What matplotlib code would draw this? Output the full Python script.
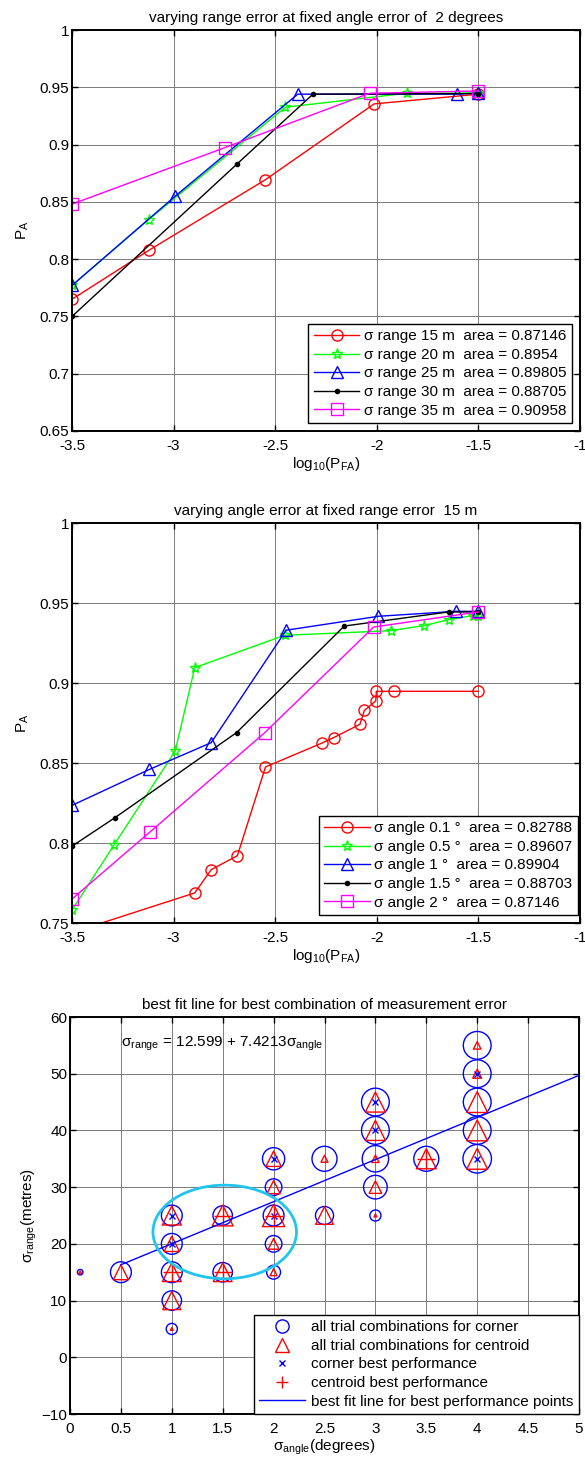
import matplotlib
matplotlib.use('Agg')
import matplotlib.pyplot as plt
from matplotlib.lines import Line2D
from matplotlib.patches import Ellipse
import numpy as np

plt.rcParams['font.family'] = ['Liberation Sans', 'DejaVu Sans']
plt.rcParams['mathtext.fontset'] = 'custom'
plt.rcParams['mathtext.rm'] = 'Liberation Sans'
plt.rcParams['mathtext.it'] = 'Liberation Sans:italic'
plt.rcParams['mathtext.default'] = 'regular'
plt.rcParams['font.size'] = 11

# ---- panel 1: varying range error, angle error 2 deg
r15_x = [-3.5, -3.119, -2.551, -2.013, -1.5]
r15_y = [0.765, 0.808, 0.869, 0.9355, 0.944]
r20_x = [-3.5, -3.122, -2.450, -1.853, -1.5]
r20_y = [0.777, 0.8346, 0.9326, 0.9448, 0.945]
r25_x = [-3.5, -2.992, -2.389, -1.606, -1.5]
r25_y = [0.777, 0.855, 0.944, 0.944, 0.945]
r30_x = [-3.5, -2.690, -2.314, -1.5]
r30_y = [0.750, 0.8827, 0.944, 0.9445]
r35_x = [-3.5, -2.748, -2.035, -1.5]
r35_y = [0.848, 0.8973, 0.9448, 0.9468]
range_labels = ['σ range 15 m  area = 0.87146',
                'σ range 20 m  area = 0.8954',
                'σ range 25 m  area = 0.89805',
                'σ range 30 m  area = 0.88705',
                'σ range 35 m  area = 0.90958']

# ---- panel 2: varying angle error, range error 15 m
a01_x = [-3.5, -2.896, -2.815, -2.686, -2.548, -2.269, -2.213, -2.083, -2.061,
         -2.005, -2.002, -1.916, -1.5]
a01_y = [0.744, 0.7688, 0.7833, 0.7921, 0.8475, 0.8625, 0.8658, 0.8742, 0.8829,
         0.8888, 0.8948, 0.8948, 0.8948]
a05_x = [-3.5, -3.292, -2.992, -2.896, -2.454, -1.931, -1.769, -1.647, -1.528, -1.5]
a05_y = [0.758, 0.799, 0.8575, 0.9096, 0.9298, 0.9327, 0.9358, 0.9396, 0.9421, 0.942]
a1_x = [-3.5, -3.119, -2.815, -2.446, -1.992, -1.611, -1.5]
a1_y = [0.8235, 0.846, 0.8627, 0.933, 0.9417, 0.9448, 0.9448]
a15_x = [-3.5, -3.289, -2.690, -2.160, -1.647, -1.5]
a15_y = [0.798, 0.8158, 0.869, 0.9356, 0.9444, 0.9444]
a2_x = [-3.5, -3.116, -2.551, -2.015, -1.5]
a2_y = [0.765, 0.8069, 0.869, 0.935, 0.9444]
angle_labels = ['σ angle 0.1 °  area = 0.82788',
                'σ angle 0.5 °  area = 0.89607',
                'σ angle 1 °  area = 0.89904',
                'σ angle 1.5 °  area = 0.88703',
                'σ angle 2 °  area = 0.87146']

pfa_ticks = [-3.5, -3, -2.5, -2, -1.5, -1]
pfa_ticklabels = ['-3.5', '-3', '-2.5', '-2', '-1.5', '-1']
pa_ticks = [0.65, 0.7, 0.75, 0.8, 0.85, 0.9, 0.95, 1]
pa_ticklabels = ['0.65', '0.7', '0.75', '0.8', '0.85', '0.9', '0.95', '1']

# ---- panel 3: trial combinations
trial_angle = [0.1, 0.5, 1, 1, 1, 1, 1, 1.5, 1.5, 2, 2, 2, 2, 2, 2.5, 2.5,
               3, 3, 3, 3, 3, 3.5, 4, 4, 4, 4, 4]
trial_range = [15, 15, 25, 20, 15, 10, 5, 25, 15, 35, 30, 25, 20, 15, 35, 25,
               45, 40, 35, 30, 25, 35, 55, 50, 45, 40, 35]
corner_size = [4, 15, 15, 15, 15, 14, 8, 14, 14, 16, 12, 15, 12, 10, 18, 13,
               20, 20, 19, 17, 8, 18, 20, 20, 20, 20, 20.5]
centroid_size = [2, 10.8, 13.7, 11, 13.5, 13, 2, 15, 13.5, 11, 9.5, 16, 7.7, 5, 5, 12.7,
                 14.4, 14.4, 5.3, 9, 2, 14.4, 5.4, 6.5, 15, 15, 15]
corner_best_angle = [1, 1, 2, 2, 3, 3, 4, 4]
corner_best_range = [25, 20, 35, 25, 45, 40, 50, 35]
centroid_best_angle = [1, 1.5, 1.5, 2, 3.5]
centroid_best_range = [15, 25, 15, 25, 35]
fit_intercept = 12.599
fit_slope = 7.4213
fit_span = [0.5, 5.0]

ang_ticks = [0, 0.5, 1, 1.5, 2, 2.5, 3, 3.5, 4, 4.5, 5]
ang_ticklabels = ['0', '0.5', '1', '1.5', '2', '2.5', '3', '3.5', '4', '4.5', '5']
rng_ticks = [-10, 0, 10, 20, 30, 40, 50, 60]


def style_axes(ax):
    ax.grid(True, color='#7a7a7a', lw=0.7)
    ax.set_axisbelow(True)
    for s in ax.spines.values():
        s.set_linewidth(1.4)
    ax.tick_params(direction='in', length=4, width=1, top=True, right=True,
                   labelsize=11, pad=2)
    ax.tick_params(axis='x', pad=6)


fig = plt.figure(figsize=(5.85, 14.7), dpi=100)
ax1 = fig.add_axes([72/585, 1 - 431/1470, 508/585, 401/1470])
ax2 = fig.add_axes([72/585, 1 - 923/1470, 508/585, 400/1470])
ax3 = fig.add_axes([70/585, 1 - 1414/1470, 509/585, 397/1470])

# panel 1
ax1.plot(r15_x, r15_y, color='r', marker='o', mfc='none', ms=8, lw=1, label=range_labels[0])
ax1.plot(r20_x, r20_y, color='#00ff00', marker='*', mfc='none', ms=8, lw=1, label=range_labels[1])
ax1.plot(r25_x, r25_y, color='b', marker='^', mfc='none', ms=8, lw=1, label=range_labels[2])
ax1.plot(r30_x, r30_y, color='k', marker='o', ms=3, lw=1, label=range_labels[3])
ax1.plot(r35_x, r35_y, color='#ff00ff', marker='s', mfc='none', ms=8, lw=1, label=range_labels[4])
ax1.set_xlim(-3.5, -1)
ax1.set_ylim(0.65, 1)
ax1.set_xticks(pfa_ticks, pfa_ticklabels)
ax1.set_yticks(pa_ticks, pa_ticklabels)
style_axes(ax1)
ax1.set_title('varying range error at fixed angle error of  2 degrees', fontsize=11, pad=6)
ax1.set_xlabel(r'log$_{10}$(P$_{FA}$)', fontsize=11, labelpad=1)
ax1.set_ylabel(r'P$_A$', fontsize=11, labelpad=6)
ax1.legend(loc='lower right', bbox_to_anchor=(0.984, 0.02), fancybox=False,
           edgecolor='k', framealpha=1, fontsize=11, handlelength=3,
           labelspacing=0.3, borderpad=0.35, handletextpad=0.3, borderaxespad=0
           ).get_frame().set_linewidth(1)

# panel 2
ax2.plot(a01_x, a01_y, color='r', marker='o', mfc='none', ms=8, lw=1, label=angle_labels[0])
ax2.plot(a05_x, a05_y, color='#00ff00', marker='*', mfc='none', ms=8, lw=1, label=angle_labels[1])
ax2.plot(a1_x, a1_y, color='b', marker='^', mfc='none', ms=8, lw=1, label=angle_labels[2])
ax2.plot(a15_x, a15_y, color='k', marker='o', ms=3, lw=1, label=angle_labels[3])
ax2.plot(a2_x, a2_y, color='#ff00ff', marker='s', mfc='none', ms=8, lw=1, label=angle_labels[4])
ax2.set_xlim(-3.5, -1)
ax2.set_ylim(0.75, 1)
ax2.set_xticks(pfa_ticks, pfa_ticklabels)
ax2.set_yticks(pa_ticks[2:], pa_ticklabels[2:])
style_axes(ax2)
ax2.set_title('varying angle error at fixed range error  15 m', fontsize=11, pad=6)
ax2.set_xlabel(r'log$_{10}$(P$_{FA}$)', fontsize=11, labelpad=1)
ax2.set_ylabel(r'P$_A$', fontsize=11, labelpad=6)
ax2.legend(loc='lower right', bbox_to_anchor=(0.996, 0.02), fancybox=False,
           edgecolor='k', framealpha=1, fontsize=11, handlelength=3,
           labelspacing=0.3, borderpad=0.35, handletextpad=0.3, borderaxespad=0
           ).get_frame().set_linewidth(1)

# panel 3
ax3.scatter(trial_angle, trial_range, s=np.array(corner_size) ** 2, marker='o',
            facecolors='none', edgecolors='b', linewidths=1, zorder=3)
ax3.scatter(trial_angle, trial_range, s=np.array(centroid_size) ** 2, marker='^',
            facecolors='none', edgecolors='r', linewidths=1, zorder=3)
ax3.plot(corner_best_angle, corner_best_range, 'x', color='b', ms=4, mew=1, zorder=4)
ax3.plot(centroid_best_angle, centroid_best_range, '+', color='r', ms=13, mew=1, zorder=4)
fx = np.array(fit_span)
ax3.plot(fx, fit_intercept + fit_slope * fx, color='b', lw=1, zorder=4)
ax3.add_patch(Ellipse((1.52, 22.1), 1.41, 16.5, fill=False, ec='#20c4ec', lw=2, zorder=5))
ax3.text(0.5, 54.7, r'$σ_{range}$ = %.3f + %.4f$σ_{angle}$' % (fit_intercept, fit_slope),
         fontsize=11, va='baseline', ha='left')
ax3.set_xlim(0, 5)
ax3.set_ylim(-10, 60)
ax3.set_xticks(ang_ticks, ang_ticklabels)
ax3.set_yticks(rng_ticks)
style_axes(ax3)
ax3.set_title('best fit line for best combination of measurement error', fontsize=11, pad=6)
ax3.set_xlabel(r'$σ_{angle}$(degrees)', fontsize=11, labelpad=1)
ax3.set_ylabel(r'$σ_{range}$(metres)', fontsize=11, labelpad=2)

handles = [Line2D([], [], ls='none', marker='o', mfc='none', mec='b', ms=9.5),
           Line2D([], [], ls='none', marker='^', mfc='none', mec='r', ms=9.5),
           Line2D([], [], ls='none', marker='x', color='b', ms=4),
           Line2D([], [], ls='none', marker='+', color='r', ms=9),
           Line2D([], [], color='b', lw=1)]
labels = ['all trial combinations for corner', 'all trial combinations for centroid',
          'corner best performance', 'centroid best performance',
          'best fit line for best performance points']
ax3.legend(handles, labels, loc='lower right', fancybox=False, edgecolor='k',
           framealpha=1, fontsize=11, handlelength=3, labelspacing=0.3,
           borderpad=0.35, handletextpad=0.4, borderaxespad=0
           ).get_frame().set_linewidth(1)

fig.savefig('out.png', dpi=100)
